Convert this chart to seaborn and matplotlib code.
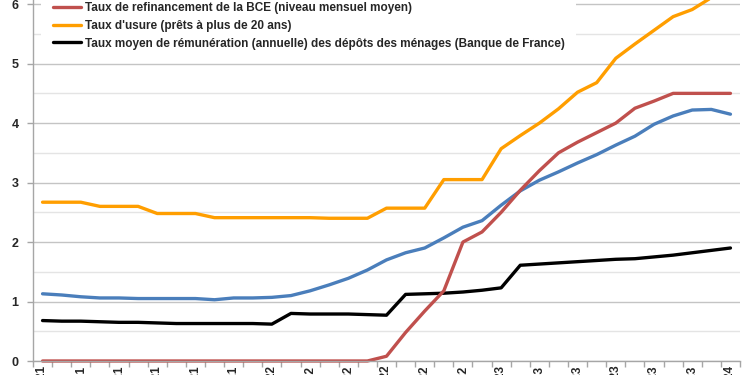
import numpy as np
import pandas as pd
import matplotlib
matplotlib.use("Agg")
import matplotlib.pyplot as plt
import seaborn as sns
from matplotlib.lines import Line2D

# ---- data (monthly, Jan 2021 -> Jan 2024) ----
months = ["janv.-21", "févr.-21", "mars-21", "avr.-21", "mai-21", "juin-21",
          "juil.-21", "août-21", "sept.-21", "oct.-21", "nov.-21", "déc.-21",
          "janv.-22", "févr.-22", "mars-22", "avr.-22", "mai-22", "juin-22",
          "juil.-22", "août-22", "sept.-22", "oct.-22", "nov.-22", "déc.-22",
          "janv.-23", "févr.-23", "mars-23", "avr.-23", "mai-23", "juin-23",
          "juil.-23", "août-23", "sept.-23", "oct.-23", "nov.-23", "déc.-23",
          "janv.-24"]

taux_bce = [0, 0, 0, 0, 0, 0, 0, 0, 0, 0, 0, 0,
            0, 0, 0, 0, 0, 0, 0.08, 0.48, 0.84, 1.18, 2.00, 2.17,
            2.50, 2.87, 3.20, 3.50, 3.68, 3.84, 4.00, 4.25, 4.37, 4.50, 4.50, 4.50,
            4.50]

taux_usure = [2.67, 2.67, 2.67, 2.60, 2.60, 2.60, 2.48, 2.48, 2.48, 2.41, 2.41, 2.41,
              2.41, 2.41, 2.41, 2.40, 2.40, 2.40, 2.57, 2.57, 2.57, 3.05, 3.05, 3.05,
              3.57, 3.79, 4.00, 4.24, 4.52, 4.68, 5.09, 5.33, 5.56, 5.79, 5.91, 6.11,
              6.11]

taux_depots = [0.68, 0.67, 0.67, 0.66, 0.65, 0.65, 0.64, 0.63, 0.63, 0.63, 0.63, 0.63,
               0.62, 0.80, 0.79, 0.79, 0.79, 0.78, 0.77, 1.12, 1.13, 1.14, 1.16, 1.19,
               1.23, 1.61, 1.63, 1.65, 1.67, 1.69, 1.71, 1.72, 1.75, 1.78, 1.82, 1.86,
               1.90]

taux_credit = [1.13, 1.11, 1.08, 1.06, 1.06, 1.05, 1.05, 1.05, 1.05, 1.03, 1.06, 1.06,
               1.07, 1.10, 1.18, 1.28, 1.39, 1.53, 1.70, 1.82, 1.90, 2.07, 2.25, 2.36,
               2.62, 2.86, 3.04, 3.18, 3.33, 3.47, 3.63, 3.78, 3.98, 4.12, 4.22, 4.23,
               4.15]

labels = ["Taux de refinancement de la BCE (niveau mensuel moyen)",
          "Taux d'usure (prêts à plus de 20 ans)",
          "Taux moyen de rémunération (annuelle) des dépôts des ménages (Banque de France)"]

c_red, c_orange, c_black, c_blue = "#C0504D", "#FF9E00", "#000000", "#4A7EBB"

sns.set_theme(style="white")
plt.rcParams['font.family'] = ['Liberation Sans', 'DejaVu Sans']

fig = plt.figure(figsize=(7.5, 3.75), dpi=100)
ax = fig.add_axes([33 / 750, 14 / 375, 707 / 750, 361 / 375])

x = np.arange(len(months))
df = pd.DataFrame({"x": x, "bce": taux_bce, "usure": taux_usure,
                   "depots": taux_depots, "credit": taux_credit})

lw = 2.4
sns.lineplot(data=df, x="x", y="credit", color=c_blue, lw=lw, ax=ax, clip_on=False)
sns.lineplot(data=df, x="x", y="usure", color=c_orange, lw=lw, ax=ax, clip_on=False)
sns.lineplot(data=df, x="x", y="depots", color=c_black, lw=lw, ax=ax, clip_on=False)
sns.lineplot(data=df, x="x", y="bce", color=c_red, lw=lw, ax=ax, clip_on=False)

ax.set_xlim(-0.5, len(months) - 0.5)
ax.set_ylim(0, 6.07)
ax.set_xlabel("")
ax.set_ylabel("")

# x ticks: labels at every other category, tick marks at category boundaries
ax.set_xticks(x[::2])
ax.set_xticklabels(months[::2], rotation=90, fontweight="bold", fontsize=8.5)
ax.set_xticks(np.arange(-0.5, len(months), 1), minor=True)
ax.tick_params(axis="x", which="major", length=0, pad=3.5, bottom=True)
ax.tick_params(axis="x", which="minor", length=4, width=1, color="#A6A6A6",
               direction="out", bottom=True)

# y ticks
ax.set_yticks(range(0, 7))
ax.set_yticklabels([str(v) for v in range(0, 7)], fontweight="bold", fontsize=9)
ax.set_yticks(np.arange(0.5, 6.5, 1), minor=True)
ax.tick_params(axis="y", which="major", length=4, width=1, color="#A6A6A6",
               direction="out", left=True, pad=6.5)
ax.tick_params(axis="y", which="minor", length=0)

ax.grid(which="major", axis="y", color="#C4C4C4", lw=1)
ax.grid(which="minor", axis="y", color="#E4E4E4", lw=1)
ax.grid(which="both", axis="x", visible=False)
ax.set_axisbelow(True)

for s in ["top", "right"]:
    ax.spines[s].set_visible(False)
for s in ["left", "bottom"]:
    ax.spines[s].set_color("#A6A6A6")
    ax.spines[s].set_linewidth(1)

handles = [Line2D([], [], color=c, lw=lw) for c in (c_red, c_orange, c_black)]
leg = ax.legend(handles, labels, loc="upper left",
                bbox_to_anchor=(41 / 750, 1 + 10 / 375), bbox_transform=fig.transFigure,
                frameon=True, facecolor="white", edgecolor="none", framealpha=1,
                prop=dict(weight="bold", size=8.5), handlelength=2.4,
                handletextpad=0.3, labelspacing=0.5, borderpad=1.0, borderaxespad=0)
leg.set_zorder(5)

fig.savefig("out.png", dpi=100, facecolor="white")
